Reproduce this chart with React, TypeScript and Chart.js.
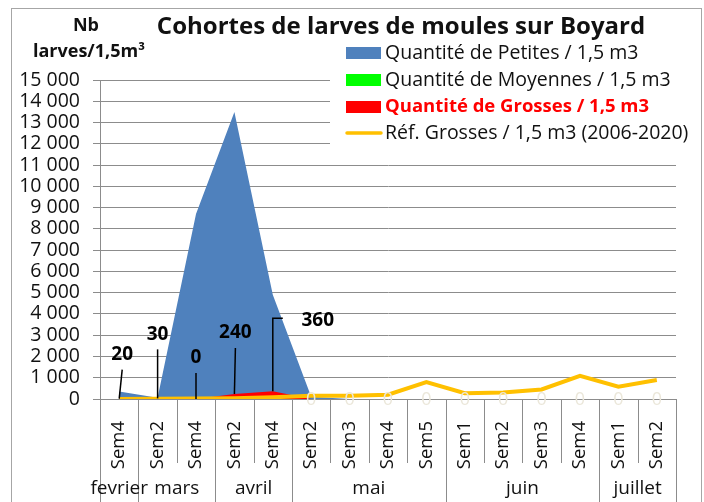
import React, { useEffect, useRef } from 'react';
import { Chart, registerables } from 'chart.js';

Chart.register(...registerables);

// ---------- DATA ----------
const chartTitle = 'Cohortes de larves de moules sur Boyard';
const yTitleLines = ['Nb', 'larves/1,5m³'];
const weeks = ['Sem4', 'Sem2', 'Sem4', 'Sem2', 'Sem4', 'Sem2', 'Sem3', 'Sem4', 'Sem5', 'Sem1', 'Sem2', 'Sem3', 'Sem4', 'Sem1', 'Sem2'];
const months = ['fevrier', 'mars', 'avril', 'mai', 'juin', 'juillet'];
const monthSpans = [1, 2, 2, 4, 4, 2];
const seriesNames = [
  'Quantité de Petites / 1,5 m3',
  'Quantité de Moyennes / 1,5 m3',
  'Quantité de Grosses / 1,5 m3',
  'Réf. Grosses / 1,5 m3 (2006-2020)',
];
const petites = [350, 60, 8700, 13500, 4900, 100, 0, 0, 0, 0, 0, 0, 0, 0, 0];
const moyennes = [0, 0, 0, 0, 0, 0, 0, 0, 0, 0, 0, 0, 0, 0, 0];
const grosses = [20, 30, 0, 240, 360, 0, 0, 0, 0, 0, 0, 0, 0, 0, 0];
const refGrosses = [0, 10, 20, 40, 80, 150, 150, 200, 790, 270, 310, 450, 1090, 580, 890];
const yMin = 0;
const yMax = 15000;
const yStep = 1000;

// ---------- STYLE ----------
const FONT = '"Open Sans", sans-serif';
const BLUE = '#4f81bd';
const GREEN = '#00ff00';
const RED = '#ff0000';
const ORANGE = '#ffc000';
const GRID = '#8c8c8c';
const TEXT = '#111111';

// label placement for the highlighted Grosses labels (offsets from the point)
const labelPlacement: Record<number, { dx: number; dy: number; elbow?: boolean }> = {
  0: { dx: 3, dy: -44 },
  1: { dx: 0, dy: -64 },
  2: { dx: 0, dy: -41 },
  3: { dx: 1, dy: -61 },
  4: { dx: 45, dy: -71, elbow: true },
};

const fmt = (v: number) => String(Math.round(v)).replace(/\B(?=(\d{3})+(?!\d))/g, ' ');

const decor = {
  id: 'decor',
  beforeDraw(chart: any) {
    const ctx = chart.ctx;
    ctx.save();
    ctx.fillStyle = '#ffffff';
    ctx.fillRect(0, 0, chart.width, chart.height);
    ctx.restore();
  },
  afterDatasetsDraw(chart: any) {
    const ctx = chart.ctx;
    const xs = chart.scales.x;
    const ys = chart.scales.y;
    const area = chart.chartArea;
    const bottom = chart.height;
    ctx.save();

    ctx.strokeStyle = GRID;
    ctx.lineWidth = 1;
    const al = (v: number) => Math.round(v) + 0.5;
    ctx.beginPath();
    ctx.moveTo(al(area.left), area.top);
    ctx.lineTo(al(area.left), bottom);
    ctx.stroke();

    const boundaries: number[] = [];
    let acc = 0;
    monthSpans.forEach((s) => {
      acc += s;
      boundaries.push(acc);
    });
    const half = (xs.getPixelForValue(1) - xs.getPixelForValue(0)) / 2;
    for (let i = 1; i <= weeks.length; i++) {
      const x = al(xs.getPixelForValue(i - 1) + half);
      const isMonth = boundaries.includes(i);
      ctx.beginPath();
      ctx.moveTo(x, area.bottom);
      ctx.lineTo(x, isMonth ? bottom : area.bottom + 64);
      ctx.stroke();
    }

    // month labels
    ctx.fillStyle = TEXT;
    ctx.font = `19px ${FONT}`;
    ctx.textAlign = 'center';
    ctx.textBaseline = 'middle';
    let start = 0;
    months.forEach((m, k) => {
      const end = start + monthSpans[k] - 1;
      const cx = (xs.getPixelForValue(start) + xs.getPixelForValue(end)) / 2;
      ctx.fillText(m, cx, 489);
      start += monthSpans[k];
    });

    // data labels for Grosses
    grosses.forEach((v, i) => {
      const px = xs.getPixelForValue(i);
      const py = ys.getPixelForValue(v);
      const pl = labelPlacement[i];
      if (pl) {
        const lx = px + pl.dx;
        const ly = py + pl.dy;
        ctx.strokeStyle = '#000000';
        ctx.lineWidth = 1.5;
        ctx.beginPath();
        if (pl.elbow) {
          ctx.moveTo(px, py);
          ctx.lineTo(px, ly - 2);
          ctx.lineTo(lx - 35, ly - 2);
        } else {
          ctx.moveTo(lx, ly + 15);
          ctx.lineTo(px, py);
        }
        ctx.stroke();
        ctx.fillStyle = '#000000';
        ctx.font = `bold 19px ${FONT}`;
        ctx.textAlign = 'center';
        ctx.textBaseline = 'middle';
        ctx.fillText(fmt(v), lx, ly);
      } else {
        ctx.fillStyle = '#ebe7da';
        ctx.font = `18px ${FONT}`;
        ctx.textAlign = 'center';
        ctx.textBaseline = 'middle';
        ctx.fillText(fmt(v), px, py + 1);
      }
    });
    ctx.restore();
  },
  afterDraw(chart: any) {
    const ctx = chart.ctx;
    ctx.save();
    // legend box
    ctx.fillStyle = '#ffffff';
    ctx.fillRect(330, 39, 368, 116);
    const colors = [BLUE, GREEN, RED, ORANGE];
    const rowY = [53, 80, 107, 133];
    seriesNames.forEach((name, i) => {
      const y = rowY[i];
      if (i < 3) {
        ctx.fillStyle = colors[i];
        ctx.fillRect(346, y - 6, 35, 12);
      } else {
        ctx.strokeStyle = ORANGE;
        ctx.lineWidth = 3.5;
        ctx.lineCap = 'round';
        ctx.beginPath();
        ctx.moveTo(347, y);
        ctx.lineTo(381, y);
        ctx.stroke();
      }
      ctx.textAlign = 'left';
      ctx.textBaseline = 'middle';
      if (i === 2) {
        ctx.fillStyle = RED;
        ctx.font = `bold 18.5px ${FONT}`;
      } else {
        ctx.fillStyle = TEXT;
        ctx.font = `19.5px ${FONT}`;
      }
      ctx.fillText(name, 385, y);
    });

    // titles
    ctx.fillStyle = TEXT;
    ctx.textAlign = 'center';
    ctx.textBaseline = 'middle';
    ctx.font = `bold 24px ${FONT}`;
    ctx.fillText(chartTitle, 401, 27);
    ctx.font = `bold 18px ${FONT}`;
    ctx.fillText(yTitleLines[0], 86, 26);
    ctx.fillText(yTitleLines[1], 89, 52);

    // outer border
    ctx.strokeStyle = '#a6a6a6';
    ctx.lineWidth = 1;
    ctx.strokeRect(11.5, 8.5, 690, 500);
    ctx.restore();
  },
};

export default function App() {
  const ref = useRef<HTMLCanvasElement | null>(null);
  useEffect(() => {
    if (!ref.current) return;
    const chart = new Chart(ref.current, {
      type: 'line',
      data: {
        labels: weeks,
        datasets: [
          { label: seriesNames[0], data: petites, backgroundColor: BLUE, borderColor: 'transparent', borderWidth: 0, fill: 'origin', pointRadius: 0, tension: 0, order: 4 },
          { label: seriesNames[1], data: moyennes, backgroundColor: GREEN, borderColor: 'transparent', borderWidth: 0, fill: 'origin', pointRadius: 0, tension: 0, order: 3 },
          { label: seriesNames[2], data: grosses, backgroundColor: RED, borderColor: 'transparent', borderWidth: 0, fill: 'origin', pointRadius: 0, tension: 0, order: 2 },
          { label: seriesNames[3], data: refGrosses, borderColor: ORANGE, borderWidth: 4, fill: false, pointRadius: 0, tension: 0, order: 1 },
        ],
      },
      options: {
        animation: false,
        responsive: false,
        layout: { padding: { top: 80, right: 28, left: 0, bottom: 0 } },
        plugins: {
          legend: { display: false },
          title: { display: false },
          tooltip: { enabled: false },
        },
        scales: {
          x: {
            offset: true,
            grid: { display: false },
            border: { display: false },
            ticks: {
              autoSkip: false,
              minRotation: 90,
              maxRotation: 90,
              padding: 14,
              color: TEXT,
              font: { family: FONT, size: 18.5 },
            },
            afterFit: (s: any) => {
              s.height = 103;
            },
          },
          y: {
            min: yMin,
            max: yMax,
            ticks: {
              stepSize: yStep,
              autoSkip: false,
              maxTicksLimit: 20,
              padding: 13,
              color: TEXT,
              font: { family: FONT, size: 19.5 },
              callback: (v: any) => fmt(Number(v)),
            },
            grid: { color: GRID, tickLength: 7, lineWidth: 1 },
            border: { color: GRID },
            afterFit: (s: any) => {
              s.width = 100;
            },
          },
        },
      },
      plugins: [decor],
    });
    return () => chart.destroy();
  }, []);
  return (
    <canvas
      ref={ref}
      width={704}
      height={502}
      style={{ position: 'absolute', left: 0, top: 0, width: 704, height: 502 }}
    />
  );
}
